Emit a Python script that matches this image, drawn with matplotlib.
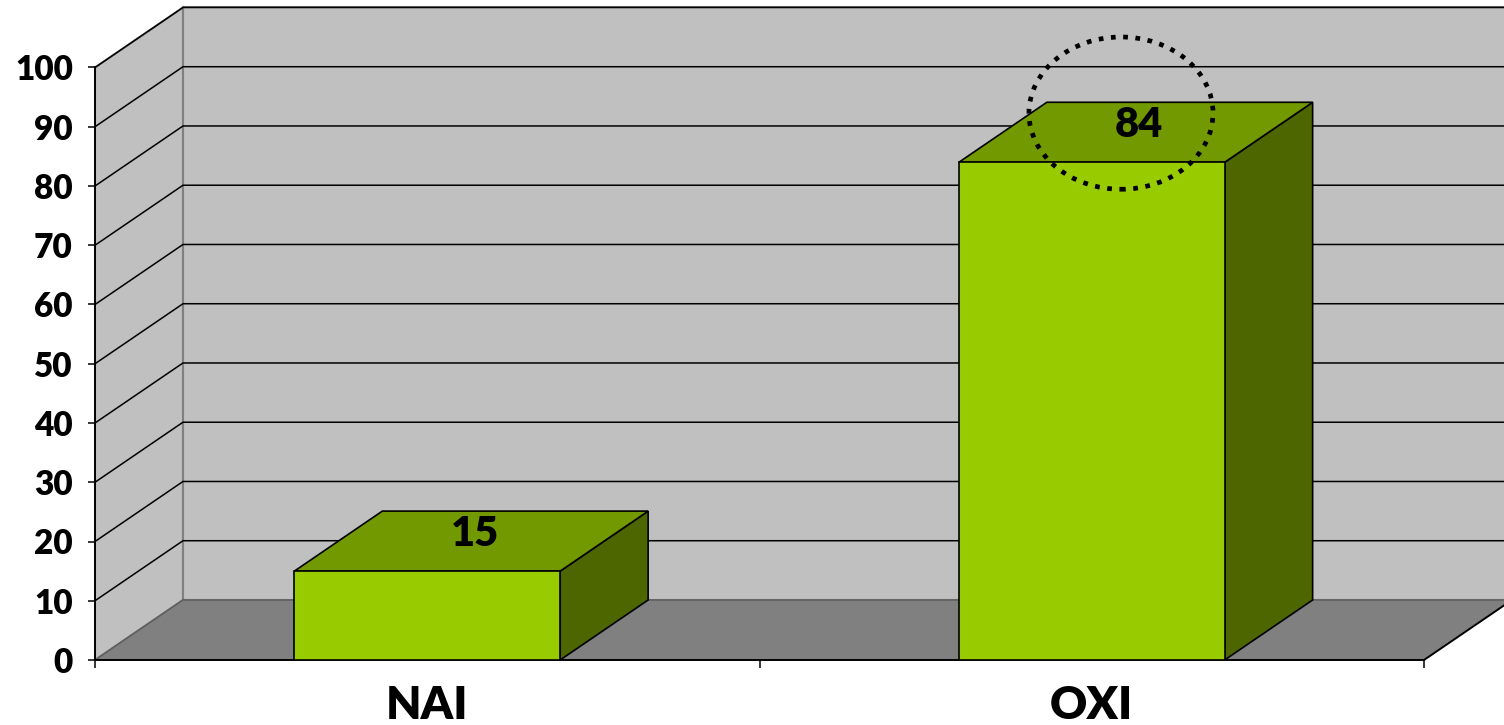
import matplotlib
matplotlib.use("Agg")
import matplotlib.pyplot as plt
from matplotlib.patches import Polygon, Ellipse

categories = ["NAI", "OXI"]
values = [15, 84]
y_ticks = [0, 10, 20, 30, 40, 50, 60, 70, 80, 90, 100]
labels = ["15", "84"]

FRONT = "#99cc00"
TOP = "#739900"
SIDE = "#4d6600"
WALL = "#c0c0c0"
FLOOR = "#808080"
FONT = ["Lato", "DejaVu Sans"]
WEIGHT = "heavy"

# depth offset of the pseudo-3D box (x in category units, y in value units)
dx, dy = 0.1324, 10.13
bar_w = 0.4
ymax = 100

fig = plt.figure(figsize=(15.04, 7.25), dpi=100)
ax = fig.add_axes([95 / 1504, 65 / 725, 1409 / 1504, 660 / 725])
ax.set_xlim(0, 1409 / 664.5)
ax.set_ylim(0, 660 / 5.925)
ax.set_facecolor("none")

n = len(categories)
xr = 3.0  # wall extends past the right edge

# back wall and left side wall
ax.add_patch(Polygon([(dx, dy), (xr, dy), (xr, ymax + dy), (dx, ymax + dy)],
                     closed=True, facecolor=WALL, edgecolor=FLOOR, lw=1.5, zorder=1))
ax.add_patch(Polygon([(0, 0), (dx, dy), (dx, ymax + dy), (0, ymax)],
                     closed=True, facecolor=WALL, edgecolor=FLOOR, lw=1.5, zorder=1))

# gridlines across side wall and back wall
for v in y_ticks[1:]:
    ax.plot([0, dx, xr], [v, v + dy, v + dy], color="black", lw=1.1, zorder=2,
            solid_joinstyle="miter")

# floor
ax.add_patch(Polygon([(0, 0), (n, 0), (n + dx, dy), (dx, dy)],
                     closed=True, facecolor=FLOOR, edgecolor="none", zorder=3))
ax.plot([dx, xr], [dy, dy], color="#606060", lw=1.2, zorder=3)
ax.plot([0, dx], [0, dy], color="#606060", lw=1.2, zorder=3)
ax.plot([0, n, n + dx], [0, 0, dy], color="black", lw=1.4, zorder=4, clip_on=False)

# bars
for i, v in enumerate(values):
    x0 = i + 0.5 - bar_w / 2
    x1 = x0 + bar_w
    ax.add_patch(Polygon([(x1, 0), (x1 + dx, dy), (x1 + dx, v + dy), (x1, v)],
                         closed=True, facecolor=SIDE, edgecolor="black", lw=1.2, zorder=5))
    ax.add_patch(Polygon([(x0, v), (x1, v), (x1 + dx, v + dy), (x0 + dx, v + dy)],
                         closed=True, facecolor=TOP, edgecolor="black", lw=1.2, zorder=5))
    ax.add_patch(Polygon([(x0, 0), (x1, 0), (x1, v), (x0, v)],
                         closed=True, facecolor=FRONT, edgecolor="black", lw=1.2, zorder=6))
    ax.text(i + 0.5 + dx / 2 + 0.005, v + dy / 2 + 1.2, labels[i], ha="center", va="center",
            fontsize=30, fontweight=WEIGHT, family=FONT, zorder=7)

# dotted highlight circle around the OXI value
hi = values.index(max(values))
ax.add_patch(Ellipse((hi + 0.5 + 0.044, max(values) + 8.3), 0.277, 25.7,
                     facecolor="none", edgecolor="black", lw=3.4,
                     linestyle=(0, (1, 1.6)), zorder=8))

# axes: spines and ticks
for s in ["top", "right", "bottom"]:
    ax.spines[s].set_visible(False)
ax.spines["left"].set_bounds(0, ymax)
ax.spines["left"].set_linewidth(1.4)
ax.spines["left"].set_zorder(9)

ax.set_yticks(y_ticks)
ax.set_yticklabels([str(t) for t in y_ticks], fontsize=24, fontweight=WEIGHT, family=FONT)
ax.tick_params(axis="y", length=5, width=1.1, pad=11)

ax.set_xticks(range(n + 1))
ax.set_xticklabels([])
ax.set_xticks([i + 0.5 for i in range(n)], minor=True)
ax.set_xticklabels(categories, minor=True, fontsize=33, fontweight=WEIGHT, family=FONT)
ax.tick_params(axis="x", which="major", length=6, width=1.1)
ax.tick_params(axis="x", which="minor", length=0, pad=18)

fig.savefig("out.png", dpi=100)
